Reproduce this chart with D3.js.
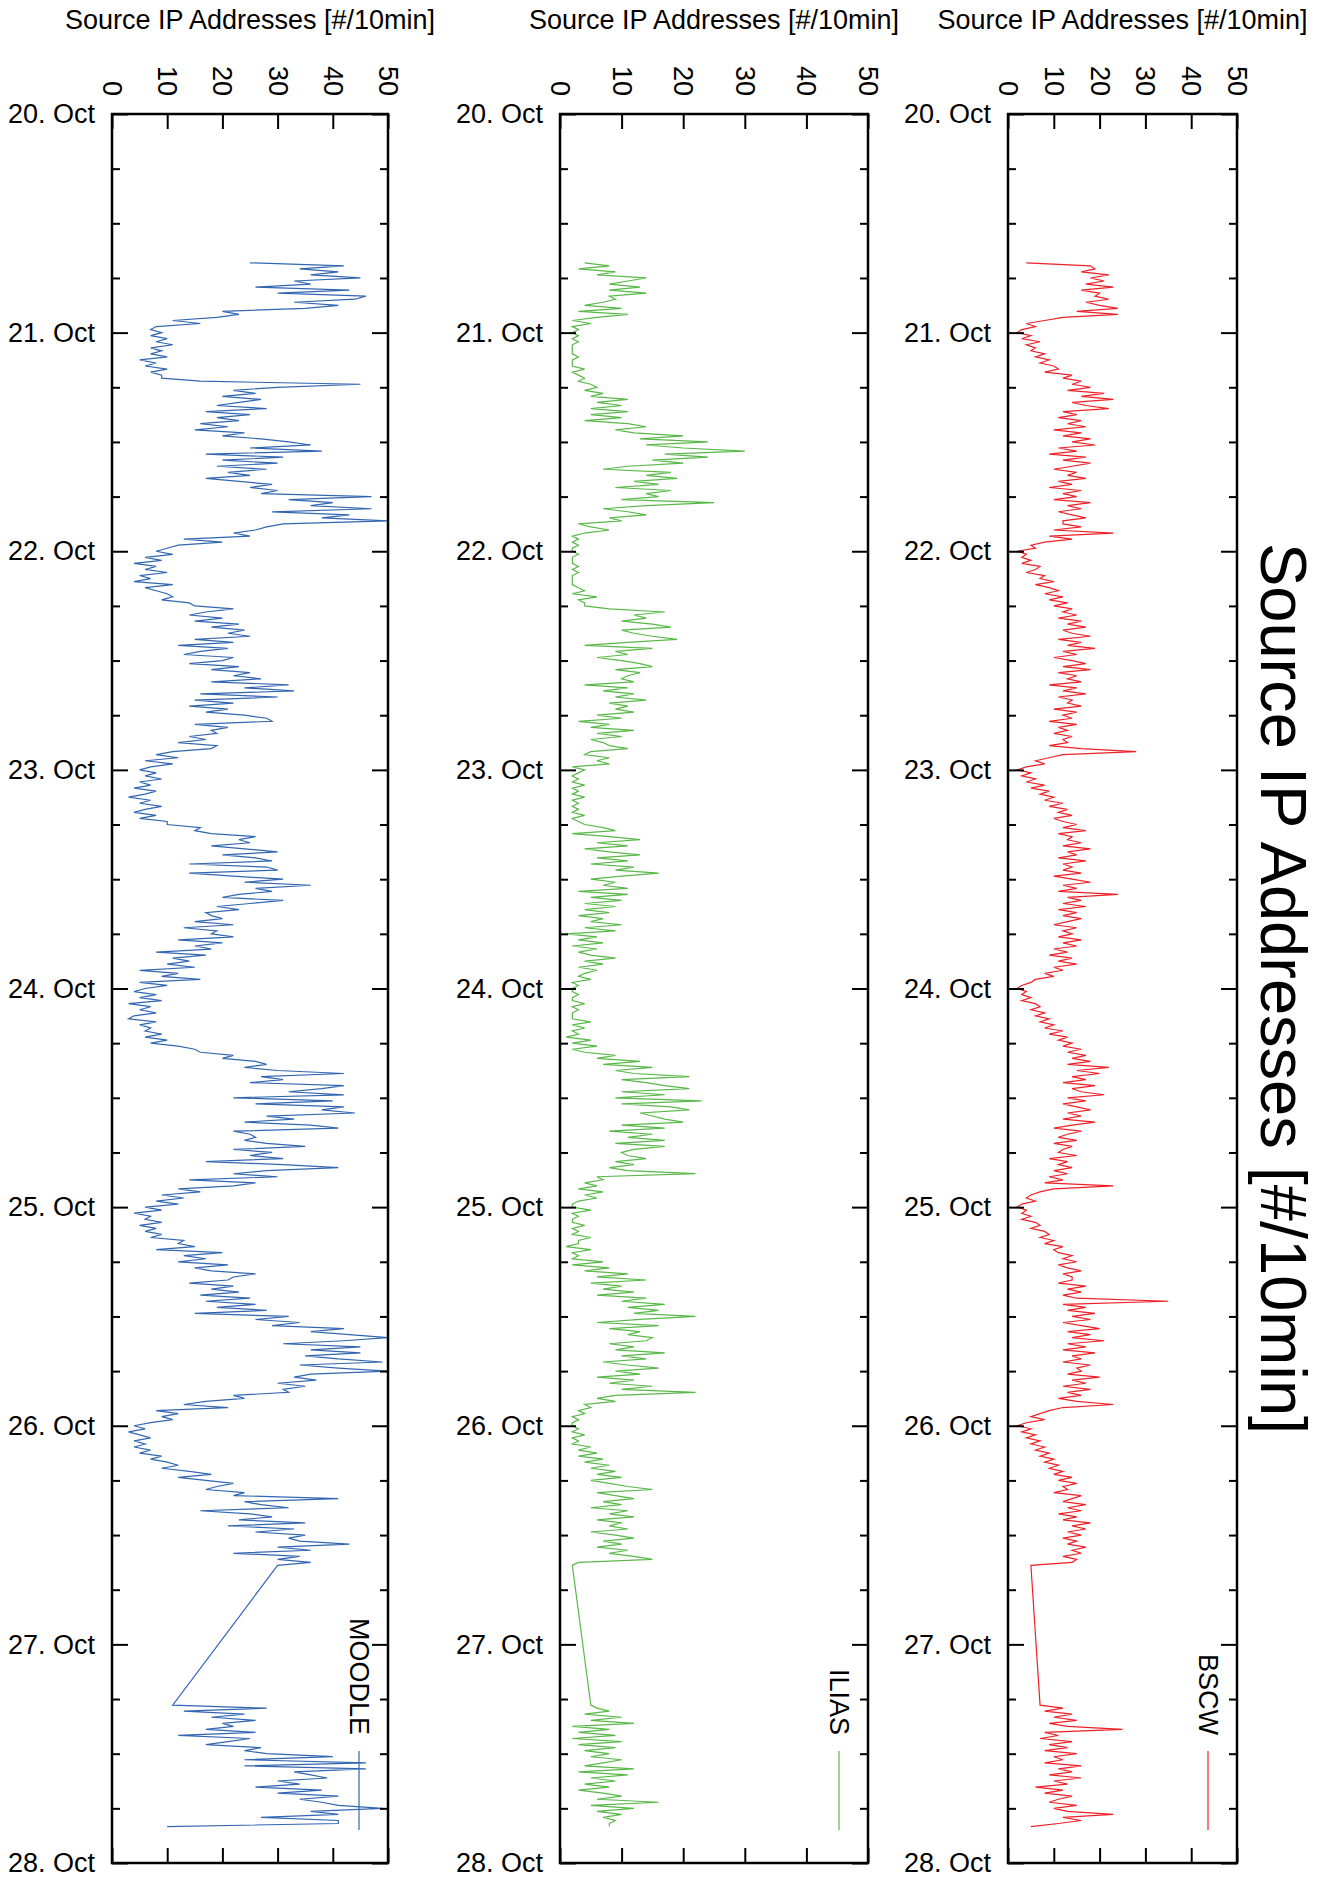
<!DOCTYPE html>
<html>
<head>
<meta charset="utf-8">
<script src="https://cdn.jsdelivr.net/npm/d3@7"></script>
<style>
  body { margin: 0; background: #fff; }
  svg { display: block; font-family: "Liberation Sans", Arial, Helvetica, sans-serif; }
</style>
</head>
<body>
<svg id="chart" width="1325" height="1878"></svg>
<script>
"use strict";

// samples every 20 minutes, first block from 20. Oct 16:20, second block after the outage
const SAMPLE_MINUTES = 20;
const BLOCK_A_START = Date.UTC(2009, 9, 20, 16, 20);
const BLOCK_B_START = Date.UTC(2009, 9, 27, 6, 40);

const seriesNames = ["MOODLE", "ILIAS", "BSCW"];
const valueTicks = [0, 10, 20, 30, 40, 50];
const axisTitle = "Source IP Addresses [#/10min]";

const moodleA = [
  25, 42,
  34, 41, 36, 45, 33, 36, 26, 43, 30, 46, 44, 33, 41, 35, 20, 23, 19, 11, 16, 8, 7,
  9, 7, 10, 8, 11, 7, 9, 7, 10, 5, 8, 6, 10, 7, 9, 9, 16, 45,
  30, 22, 26, 20, 27, 23, 19, 28, 17, 25, 19, 23, 16, 21, 15, 24, 20, 27,
  32, 36, 25, 38, 17, 31, 20, 30, 19, 28, 21, 25, 17, 23, 29, 25, 30, 27,
  47, 32, 40, 36, 47, 29, 43, 38, 50, 31, 28, 26, 22, 25, 13, 20, 12, 10,
  8, 11, 6, 9, 4, 8, 6, 10, 5, 7, 4, 11, 6, 8, 10, 11, 9, 14,
  15, 22, 17, 14, 20, 15, 23, 18, 24, 21, 25, 15, 22, 12, 21, 16, 13, 22,
  20, 14, 23, 18, 25, 22, 27, 18, 32, 24, 33, 16, 30, 15, 22, 14, 21, 17,
  24, 28, 29, 15, 21, 18, 19, 14, 17, 12, 19, 18, 11, 8, 12, 6, 11, 7,
  5, 8, 6, 9, 5, 7, 4, 8, 6, 3, 7, 5, 9, 6, 4, 8, 5, 10,
  10, 16, 15, 18, 26, 23, 25, 18, 24, 30, 20, 26, 29, 14, 28, 30, 14, 22,
  31, 24, 36, 26, 29, 23, 20, 31, 25, 19, 23, 17, 18, 20, 15, 22, 13, 19,
  18, 22, 12, 20, 15, 18, 8, 17, 11, 14, 10, 15, 5, 12, 9, 16, 5, 10,
  6, 4, 8, 5, 9, 3, 7, 5, 8, 4, 3, 8, 5, 7, 6, 9, 6, 10,
  7, 12, 15, 16, 22, 20, 26, 28, 24, 30, 42, 27, 31, 25, 42, 38, 32, 42,
  22, 40, 26, 42, 38, 44, 28, 33, 24, 36, 41, 22, 25, 26, 24, 28, 35, 22,
  29, 25, 31, 17, 31, 41, 28, 22, 30, 14, 26, 22, 12, 16, 9, 13, 8, 12,
  6, 9, 4, 7, 6, 9, 5, 8, 6, 9, 7, 13, 12, 15, 8, 20, 13, 17,
  12, 21, 15, 18, 26, 22, 21, 14, 22, 18, 23, 16, 25, 17, 26, 19, 28, 15,
  32, 26, 34, 29, 42, 36, 43, 50, 42, 31, 45, 36, 45, 35, 41, 49, 34, 41,
  50, 36, 33, 37, 30, 35, 31, 32, 22, 24, 17, 13, 21, 8, 12, 9, 11, 7,
  4, 6, 3, 5, 7, 4, 6, 4, 7, 5, 9, 7, 10, 12, 9, 14, 18, 12,
  17, 22, 19, 17, 24, 22, 41, 24, 27, 32, 16, 25, 29, 23, 35, 21, 33, 26,
  35, 32, 34, 43, 30, 36, 22, 34, 30,
  36, 30
];
const moodleB = [
  11,
  28, 13, 24, 18, 26, 20, 22, 17, 26, 12, 25, 21, 17, 27, 24, 28, 40, 24,
  46, 24, 46, 33, 36, 39, 30, 34, 26, 38, 30, 41, 34, 38, 41, 49, 36, 41,
  27, 41, 41,
  10
];

const iliasA = [
  4, 8,
  3, 9, 6, 14, 11, 8, 13, 8, 14, 8, 9, 7, 4, 10, 3, 11, 6, 2, 5, 2, 3,
  2, 3, 2, 3, 2, 2, 2, 2, 3, 2, 2, 2, 4, 2, 3, 4, 3, 5,
  6, 4, 7, 5, 11, 6, 10, 5, 11, 5, 10, 4, 11, 14, 9, 12, 20, 13,
  24, 14, 20, 30, 17, 24, 15, 20, 11, 7, 18, 14, 19, 12, 16, 9, 18, 14,
  16, 10, 25, 14, 7, 11, 14, 8, 10, 3, 5, 8, 4, 2, 3, 2, 3, 2,
  2, 3, 2, 2, 2, 3, 2, 3, 2, 2, 2, 2, 3, 4, 2, 6, 3, 4,
  4, 8, 17, 12, 14, 10, 15, 18, 10, 12, 15, 19, 11, 4, 15, 9, 11, 6,
  10, 13, 15, 9, 13, 11, 10, 12, 4, 11, 7, 12, 9, 14, 8, 11, 9, 12,
  6, 10, 3, 8, 5, 12, 6, 10, 5, 7, 8, 11, 5, 4, 8, 6, 8, 2,
  4, 3, 2, 3, 2, 4, 2, 3, 2, 4, 2, 3, 2, 3, 2, 4, 2, 3,
  4, 7, 9, 2, 8, 13, 6, 11, 4, 8, 13, 6, 11, 5, 12, 9, 16, 10,
  5, 9, 7, 11, 3, 11, 5, 10, 4, 9, 4, 8, 3, 7, 5, 10, 4, 9,
  1, 6, 3, 7, 2, 6, 3, 5, 9, 4, 7, 3, 6, 4, 3, 5, 2, 3,
  2, 2, 3, 2, 2, 4, 2, 3, 2, 2, 2, 5, 2, 4, 2, 3, 1, 5,
  2, 6, 2, 4, 9, 6, 13, 7, 15, 9, 12, 21, 10, 14, 17, 21, 10, 17,
  9, 23, 10, 18, 21, 13, 15, 17, 20, 10, 17, 8, 15, 11, 17, 9, 17, 12,
  10, 11, 14, 9, 12, 8, 11, 22, 6, 7, 4, 6, 3, 7, 4, 6, 3, 2,
  2, 5, 2, 3, 2, 2, 4, 2, 3, 2, 5, 3, 3, 1, 5, 2, 3, 2,
  7, 2, 8, 4, 11, 6, 14, 5, 10, 7, 12, 6, 14, 10, 17, 11, 16, 12,
  22, 13, 6, 16, 8, 13, 11, 15, 14, 8, 12, 9, 17, 10, 14, 7, 11, 16,
  9, 13, 6, 12, 8, 15, 10, 22, 9, 6, 9, 4, 5, 3, 4, 2, 3, 2,
  2, 3, 2, 4, 2, 3, 2, 5, 3, 6, 3, 7, 4, 8, 5, 9, 6, 10,
  5, 8, 11, 15, 6, 9, 12, 7, 10, 5, 11, 8, 12, 6, 10, 8, 11, 5,
  9, 12, 7, 10, 6, 11, 8, 12, 15,
  3, 2
];
const iliasB = [
  5,
  6, 8, 4, 10, 5, 12, 2, 8, 3, 9, 2, 10, 3, 9, 4, 8, 5, 10,
  7, 4, 12, 3, 11, 5, 9, 4, 8, 3, 7, 10, 6, 16, 5, 12, 6, 10,
  7, 9, 8,
  8
];

const bscwA = [
  4, 18,
  19, 16, 22, 18, 21, 17, 23, 16, 20, 19, 22, 17, 20, 24, 15, 24, 12, 8, 4, 6, 3,
  2, 5, 3, 7, 4, 6, 5, 8, 6, 9, 7, 10, 11, 8, 14, 12, 16, 14,
  18, 13, 21, 16, 23, 14, 17, 22, 12, 15, 11, 16, 13, 17, 10, 16, 12, 18,
  14, 19, 11, 15, 9, 17, 12, 18, 14, 10, 15, 13, 17, 11, 14, 9, 16, 12,
  15, 10, 18, 13, 16, 11, 14, 17, 12, 12, 16, 10, 23, 9, 14, 8, 5, 6,
  2, 4, 3, 5, 3, 7, 6, 4, 8, 7, 10, 6, 9, 11, 8, 12, 9, 13,
  10, 14, 12, 15, 11, 16, 13, 17, 12, 14, 18, 11, 16, 13, 19, 12, 15, 10,
  14, 17, 12, 18, 11, 15, 13, 16, 9, 15, 12, 17, 11, 14, 13, 16, 10, 15,
  12, 14, 9, 15, 11, 13, 10, 14, 12, 13, 9, 16, 28, 12, 9, 6, 8, 4,
  2, 5, 3, 6, 4, 8, 5, 9, 7, 10, 8, 12, 9, 13, 11, 14, 10, 12,
  15, 12, 17, 11, 14, 13, 16, 12, 18, 13, 15, 11, 17, 12, 14, 12, 16, 10,
  14, 18, 12, 15, 11, 24, 13, 16, 12, 17, 11, 15, 12, 16, 13, 10, 15, 12,
  14, 11, 16, 12, 15, 10, 13, 9, 14, 11, 15, 10, 12, 8, 10, 6, 5, 3,
  2, 4, 3, 5, 3, 6, 7, 5, 8, 6, 9, 7, 10, 8, 12, 9, 13, 11,
  14, 12, 16, 13, 17, 14, 18, 13, 22, 15, 20, 14, 17, 12, 19, 14, 16, 21,
  13, 17, 12, 15, 18, 13, 16, 12, 19, 14, 10, 16, 13, 11, 15, 10, 14, 12,
  11, 15, 9, 13, 11, 14, 10, 13, 9, 12, 8, 23, 10, 7, 5, 4, 6, 3,
  2, 4, 3, 5, 3, 6, 7, 5, 8, 9, 7, 10, 8, 12, 10, 11, 14, 12,
  15, 11, 13, 16, 12, 14, 14, 11, 17, 13, 16, 12, 15, 35, 12, 17, 13, 19,
  14, 18, 12, 16, 20, 13, 18, 14, 21, 13, 17, 12, 19, 14, 16, 12, 18, 15,
  16, 13, 20, 14, 17, 12, 18, 13, 16, 11, 15, 23, 12, 9, 7, 5, 8, 4,
  2, 5, 3, 6, 4, 7, 5, 8, 6, 9, 7, 10, 8, 11, 9, 12, 10, 14,
  11, 15, 12, 13, 10, 16, 14, 12, 17, 13, 16, 11, 15, 12, 18, 14, 17, 13,
  16, 12, 15, 13, 17, 14, 16, 12, 15,
  14, 5
];
const bscwB = [
  7,
  12, 8, 14, 10, 15, 9, 13, 25, 8, 11, 7, 14, 9, 13, 8, 15, 10, 12,
  8, 16, 11, 14, 9, 16, 10, 13, 6, 12, 8, 14, 11, 9, 15, 10, 13, 23,
  12, 16, 11,
  5
];

const seriesColors = ["#3366b0", "#5ab84a", "#ee2128"];

// layout
const WIDTH = 1325;
const PLOT_TOP = 114;
const PLOT_BOTTOM = 1863;
const PANEL_X = [[112, 388], [560, 868], [1008, 1237]];
const FONT = 27;

const svg = d3.select("#chart");
svg.append("rect").attr("width", WIDTH).attr("height", 1878).attr("fill", "#fff");

const tStart = new Date(Date.UTC(2009, 9, 20));
const tEnd = new Date(Date.UTC(2009, 9, 28));
const y = d3.scaleUtc().domain([tStart, tEnd]).range([PLOT_TOP, PLOT_BOTTOM]);

const days = d3.utcDay.range(tStart, d3.utcHour.offset(tEnd, 1));
const quarters = d3.utcHour.every(6).range(tStart, tEnd).filter((d) => d.getUTCHours() !== 0);

function toPoints(values, start) {
  return values.map((v, i) => ({
    t: d3.utcMinute.offset(new Date(start), i * SAMPLE_MINUTES),
    v: v,
  }));
}

const seriesData = [
  toPoints(moodleA, BLOCK_A_START).concat(toPoints(moodleB, BLOCK_B_START)),
  toPoints(iliasA, BLOCK_A_START).concat(toPoints(iliasB, BLOCK_B_START)),
  toPoints(bscwA, BLOCK_A_START).concat(toPoints(bscwB, BLOCK_B_START)),
];

function styleAxis(g) {
  g.select(".domain").remove();
  g.selectAll(".tick line").attr("stroke", "#000").attr("stroke-width", 2);
  g.attr("font-family", null).attr("font-size", FONT);
  g.selectAll("text").attr("fill", "#000");
}

seriesNames.forEach((name, i) => {
  const [x0, x1] = PANEL_X[i];
  const x = d3.scaleLinear().domain([0, 50]).range([x0, x1]);

  // clip
  svg.append("clipPath").attr("id", "clip" + i)
    .append("rect").attr("x", x0).attr("y", PLOT_TOP)
    .attr("width", x1 - x0).attr("height", PLOT_BOTTOM - PLOT_TOP);

  const line = d3.line().x((d) => x(d.v)).y((d) => y(d.t));
  svg.append("path")
    .datum(seriesData[i])
    .attr("clip-path", `url(#clip${i})`)
    .attr("fill", "none")
    .attr("stroke", seriesColors[i])
    .attr("stroke-width", 1.2)
    .attr("d", line);

  // date axis, left (labelled) and right
  svg.append("g").attr("transform", `translate(${x0},0)`)
    .call(d3.axisLeft(y).tickValues(days).tickSizeInner(-16).tickSizeOuter(0)
      .tickPadding(17).tickFormat(d3.utcFormat("%d. %b")))
    .call(styleAxis);
  svg.append("g").attr("transform", `translate(${x0},0)`)
    .call(d3.axisLeft(y).tickValues(quarters).tickSize(-8).tickFormat(""))
    .call(styleAxis);
  svg.append("g").attr("transform", `translate(${x1},0)`)
    .call(d3.axisRight(y).tickValues(days).tickSize(-16).tickFormat(""))
    .call(styleAxis);
  svg.append("g").attr("transform", `translate(${x1},0)`)
    .call(d3.axisRight(y).tickValues(quarters).tickSize(-8).tickFormat(""))
    .call(styleAxis);

  // value axis, top (labelled, rotated) and bottom
  const top = svg.append("g").attr("transform", `translate(0,${PLOT_TOP})`)
    .call(d3.axisTop(x).tickValues(valueTicks).tickSize(-15).tickFormat(d3.format("d")))
    .call(styleAxis);
  top.selectAll(".tick text")
    .attr("x", 0).attr("y", 0).attr("dy", "0.35em")
    .attr("text-anchor", "end")
    .attr("transform", "translate(0,-18) rotate(90)");
  svg.append("g").attr("transform", `translate(0,${PLOT_BOTTOM})`)
    .call(d3.axisBottom(x).tickValues(valueTicks).tickSize(-15).tickFormat(""))
    .call(styleAxis);

  // frame
  svg.append("rect")
    .attr("x", x0).attr("y", PLOT_TOP)
    .attr("width", x1 - x0).attr("height", PLOT_BOTTOM - PLOT_TOP)
    .attr("fill", "none").attr("stroke", "#000").attr("stroke-width", 2.5);

  // axis title above panel
  svg.append("text")
    .attr("x", (x0 + x1) / 2).attr("y", 29)
    .attr("text-anchor", "middle").attr("font-size", FONT)
    .text(axisTitle);

  // key
  const kx = x1 - 29;
  svg.append("line")
    .attr("x1", kx).attr("x2", kx).attr("y1", 1751).attr("y2", 1830)
    .attr("stroke", seriesColors[i]).attr("stroke-width", 1.2);
  svg.append("text")
    .attr("transform", `translate(${kx},1735) rotate(90)`)
    .attr("dy", "0.35em").attr("text-anchor", "end").attr("font-size", FONT)
    .text(name);
});

// big rotated title on the right
svg.append("text")
  .attr("transform", `translate(1261,${(PLOT_TOP + PLOT_BOTTOM) / 2}) rotate(90)`)
  .attr("text-anchor", "middle").attr("font-size", 65)
  .text(axisTitle);
</script>
</body>
</html>
